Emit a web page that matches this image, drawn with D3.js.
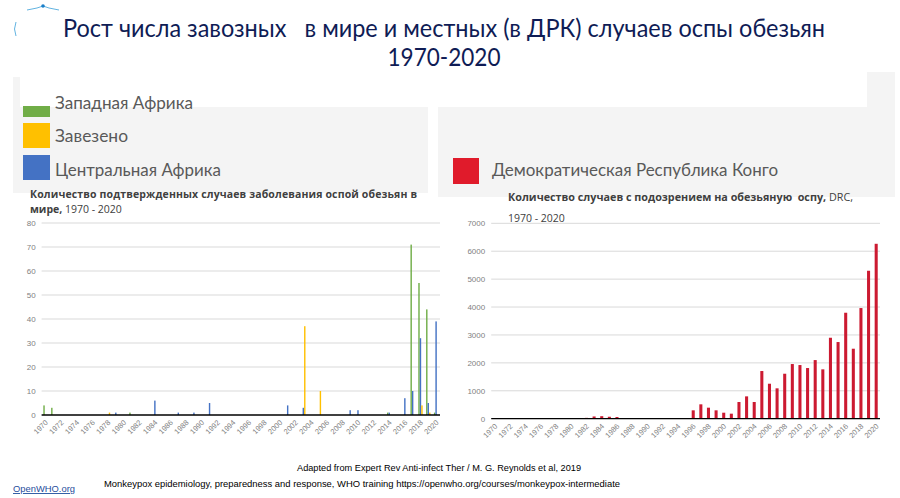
<!DOCTYPE html>
<html><head><meta charset="utf-8">
<script src="https://cdn.jsdelivr.net/npm/d3@7"></script>
<style>
html,body{margin:0;padding:0;background:#fff;}
svg{display:block;}
text{white-space:pre;}
</style></head>
<body>
<svg id="c" width="900" height="498"></svg>
<script>
// ---------- data ----------
const years = d3.range(1970, 2021);
const tickYears = d3.range(1970, 2021, 2);
const leftSeries = ["Западная Африка", "Центральная Африка", "Завезено"];
const leftColors = ["#70ad47", "#4472c4", "#ffc000"];
// confirmed cases worldwide, by year
const westAfrica = {1970:4, 1971:3, 1981:1, 2014:1, 2017:71, 2018:55, 2019:44, 2020:1};
const centralAfrica = {1979:1, 1984:6, 1987:1, 1989:1, 1991:5, 2001:4, 2003:3, 2009:2, 2010:2, 2014:1, 2016:7, 2017:10, 2018:32, 2019:5, 2020:39};
const imported = {1978:1, 2003:37, 2005:10, 2018:4, 2019:1};
const leftTicks = [0,10,20,30,40,50,60,70,80];
// suspected cases DRC
const drc = {1982:30, 1983:80, 1984:90, 1985:70, 1986:60,
  1996:300, 1997:515, 1998:395, 1999:300, 2000:215, 2001:180, 2002:598, 2003:800, 2004:598,
  2005:1708, 2006:1253, 2007:1088, 2008:1611, 2009:1958, 2010:1922, 2011:1815, 2012:2100,
  2013:1768, 2014:2900, 2015:2746, 2016:3796, 2017:2507, 2018:3964, 2019:5300, 2020:6266};
const rightTicks = [0,1000,2000,3000,4000,5000,6000,7000];

const svg = d3.select("#c");
const navy = "#0f1c55";

// ---------- background panels ----------
svg.append("rect").attr("x",13).attr("y",77).attr("width",415).attr("height",116).attr("fill","#f4f4f4");
svg.append("rect").attr("x",438).attr("y",72).attr("width",457).attr("height",125).attr("fill","#f4f4f4");
svg.append("rect").attr("x",20).attr("y",0).attr("width",847).attr("height",107).attr("fill","#ffffff");

// logo bits
const lg = svg.append("g").attr("stroke","#3aa0d8").attr("fill","none").attr("stroke-width",0.8);
lg.append("path").attr("d","M27,10 L37,8 L43,6 L49,8 L59,10");
svg.append("circle").attr("cx",43).attr("cy",6).attr("r",1.8).attr("fill","#1a7fc9");
lg.append("path").attr("d","M16,22 Q13,29 16,36");

// ---------- title ----------
const title = svg.append("g").attr("fill",navy).attr("font-family","Lato, 'Open Sans', sans-serif").attr("font-size",24.5);
title.append("text").attr("x",444).attr("y",37).attr("text-anchor","middle")
  .attr("textLength",762).attr("lengthAdjust","spacingAndGlyphs")
  .text("Рост числа завозных   в мире и местных (в ДРК) случаев оспы обезьян");
title.append("text").attr("x",444).attr("y",66).attr("text-anchor","middle")
  .attr("textLength",113).attr("lengthAdjust","spacingAndGlyphs").text("1970-2020");

// ---------- legends ----------
const legendFont = "Lato, 'Open Sans', sans-serif";
const leg = [
  {label:"Западная Африка", color:leftColors[0], y0:106, y1:117, ty:109, w:138},
  {label:"Завезено", color:leftColors[2], y0:123, y1:148, ty:142, w:73},
  {label:"Центральная Африка", color:leftColors[1], y0:155, y1:180, ty:176, w:166}
];
leg.forEach(d=>{
  svg.append("rect").attr("x",23).attr("y",d.y0).attr("width",27).attr("height",d.y1-d.y0).attr("fill",d.color);
  svg.append("text").attr("x",55).attr("y",d.ty).attr("font-family",legendFont).attr("font-size",17)
    .attr("fill","#595959").attr("textLength",d.w).attr("lengthAdjust","spacingAndGlyphs").text(d.label);
});
svg.append("rect").attr("x",453).attr("y",158).attr("width",26).attr("height",26).attr("fill","#e01b2b");
svg.append("text").attr("x",492).attr("y",176).attr("font-family",legendFont).attr("font-size",17)
  .attr("fill","#595959").attr("textLength",286).attr("lengthAdjust","spacingAndGlyphs")
  .text("Демократическая Республика Конго");

// ---------- subtitles ----------
const subFont = "'Open Sans', 'Noto Sans', sans-serif";
svg.append("text").attr("x",30).attr("y",198).attr("font-family",subFont).attr("font-size",10.5)
  .attr("font-weight","bold").attr("fill","#404040").attr("textLength",387).attr("lengthAdjust","spacing")
  .text("Количество подтвержденных случаев заболевания оспой обезьян в");
const s2 = svg.append("text").attr("x",30).attr("y",213).attr("font-family",subFont).attr("font-size",10.5).attr("fill","#404040");
s2.append("tspan").attr("font-weight","bold").text("мире,");
s2.append("tspan").text(" 1970 - 2020");

const s3 = svg.append("text").attr("x",508).attr("y",201).attr("font-family",subFont).attr("font-size",10.5)
  .attr("fill","#404040").attr("textLength",345).attr("lengthAdjust","spacingAndGlyphs");
s3.append("tspan").attr("font-weight","bold").text("Количество случаев с подозрением на обезьяную  оспу,");
s3.append("tspan").text(" DRC,");
svg.append("text").attr("x",508).attr("y",222).attr("font-family",subFont).attr("font-size",10.5)
  .attr("fill","#404040").text("1970 - 2020");

// ---------- helper to draw axes ----------
function drawChart(g, x, y, ticks, x0, x1, fmt){
  g.append("g").selectAll("line").data(ticks.filter(t=>t>0)).join("line")
    .attr("x1",x0).attr("x2",x1).attr("y1",d=>y(d)).attr("y2",d=>y(d))
    .attr("stroke","#d9d9d9").attr("stroke-width",1);
  g.append("g").selectAll("text").data(ticks).join("text")
    .attr("x",x0-6).attr("y",d=>y(d)+3).attr("text-anchor","end")
    .attr("font-family","'Liberation Sans', Arial, sans-serif").attr("font-size",8)
    .attr("fill","#7f7f7f").text(fmt);
  g.append("g").selectAll("text").data(tickYears).join("text")
    .attr("transform",d=>`translate(${x(d)+x.bandwidth()/2+3},${y(0)+8}) rotate(-45)`)
    .attr("text-anchor","end")
    .attr("font-family","'Liberation Sans', Arial, sans-serif").attr("font-size",7.5)
    .attr("fill","#7f7f7f").text(d=>d);
}

// ---------- left chart ----------
const xL = d3.scaleBand().domain(years).range([41.6,440]).paddingInner(0.42).paddingOuter(0.21);
const yL = d3.scaleLinear().domain([0,80]).range([415,223]);
const xSub = d3.scaleBand().domain(leftSeries).range([0,xL.bandwidth()]).padding(0.05);
const gL = svg.append("g");
drawChart(gL, xL, yL, leftTicks, 41.6, 440, d=>d);
const leftData = [westAfrica, centralAfrica, imported];
const flatL = [];
years.forEach(yr=>leftData.forEach((s,i)=>{ if(s[yr]) flatL.push({yr, s:leftSeries[i], v:s[yr], c:leftColors[i]}); }));
gL.append("g").selectAll("rect").data(flatL).join("rect")
  .attr("x",d=>xL(d.yr)+xSub(d.s)).attr("width",xSub.bandwidth())
  .attr("y",d=>yL(d.v)).attr("height",d=>yL(0)-yL(d.v)).attr("fill",d=>d.c);
gL.append("line").attr("x1",41.6).attr("x2",440).attr("y1",yL(0)).attr("y2",yL(0)).attr("stroke","#000").attr("stroke-width",1.3);

// ---------- right chart ----------
const xR = d3.scaleBand().domain(years).range([491.2,880]).paddingInner(0.6).paddingOuter(0.3);
const yR = d3.scaleLinear().domain([0,7000]).range([418.7,223.3]);
const gR = svg.append("g");
drawChart(gR, xR, yR, rightTicks, 491.2, 880, d=>d);
const flatR = years.filter(yr=>drc[yr]).map(yr=>({yr, v:drc[yr]}));
gR.append("g").selectAll("rect").data(flatR).join("rect")
  .attr("x",d=>xR(d.yr)).attr("width",xR.bandwidth())
  .attr("y",d=>yR(d.v)).attr("height",d=>yR(0)-yR(d.v)).attr("fill","#cc1a31");
gR.append("line").attr("x1",491.2).attr("x2",880).attr("y1",yR(0)).attr("y2",yR(0)).attr("stroke","#000").attr("stroke-width",1.3);

// ---------- footer ----------
const footFont = "'Liberation Sans', Arial, sans-serif";
svg.append("text").attr("x",297).attr("y",471).attr("font-family",footFont).attr("font-size",9)
  .attr("fill","#000").attr("textLength",284).attr("lengthAdjust","spacingAndGlyphs")
  .text("Adapted from Expert Rev Anti-infect Ther / M. G. Reynolds et al, 2019");
svg.append("text").attr("x",104).attr("y",487).attr("font-family",footFont).attr("font-size",9)
  .attr("fill","#000").attr("textLength",516).attr("lengthAdjust","spacingAndGlyphs")
  .text("Monkeypox epidemiology, preparedness and response, WHO training https://openwho.org/courses/monkeypox-intermediate");
svg.append("text").attr("x",13).attr("y",492).attr("font-family",footFont).attr("font-size",9)
  .attr("fill","#1f4e9c").attr("text-decoration","underline").attr("textLength",62).attr("lengthAdjust","spacingAndGlyphs")
  .text("OpenWHO.org");
</script>
</body></html>
